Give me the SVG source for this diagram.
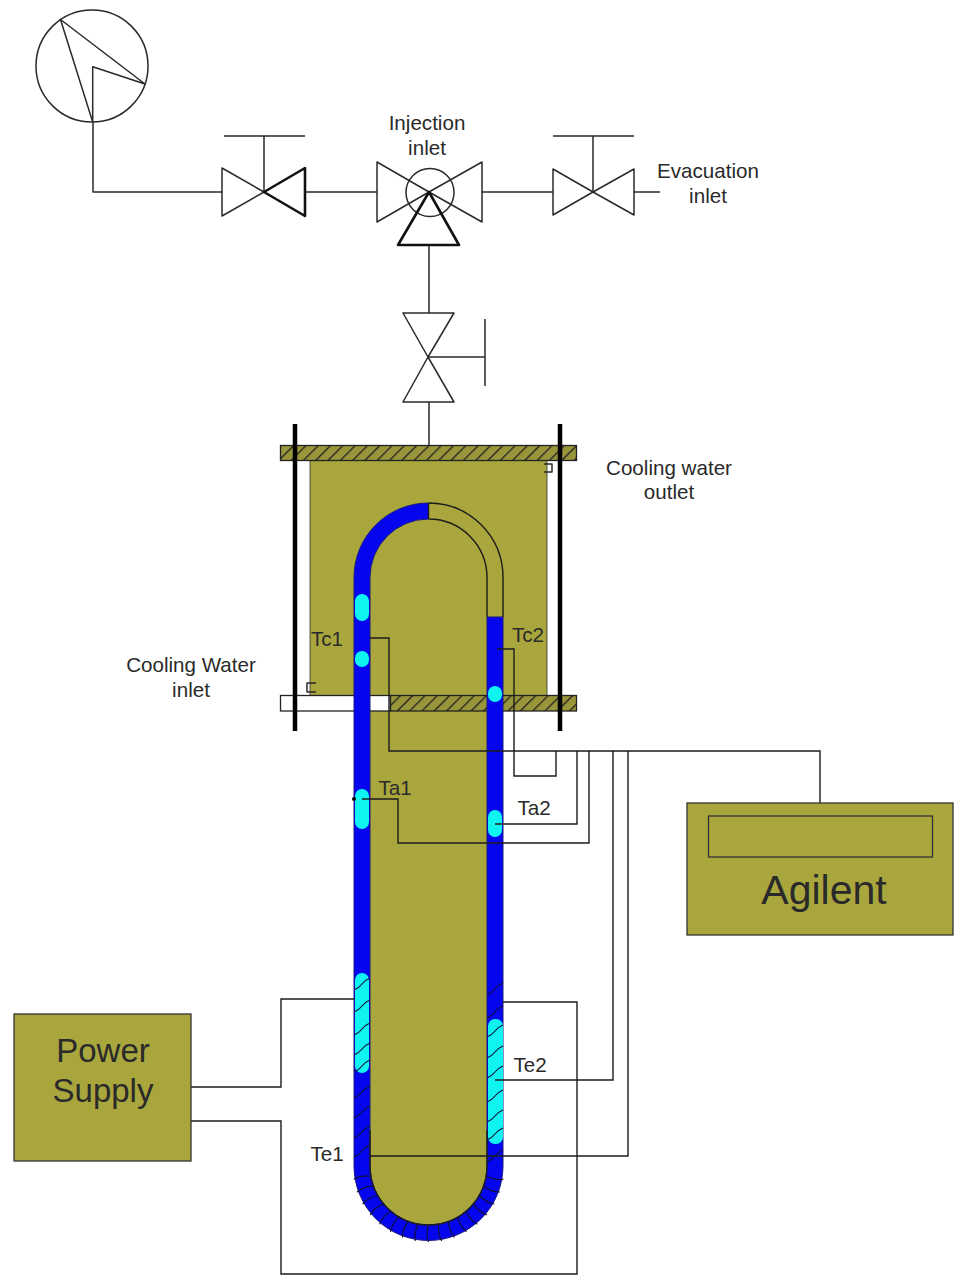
<svg xmlns="http://www.w3.org/2000/svg" xmlns:xlink="http://www.w3.org/1999/xlink" width="957" height="1275" viewBox="0 0 957 1275">
<style>
text{font-family:"Liberation Sans",Arial,sans-serif;font-size:20.6px;fill:#2a2a2a;text-anchor:middle}
.l{fill:none;stroke:#2a2a2a;stroke-width:1.5;stroke-linejoin:round}
.v{fill:#fff;stroke:#2a2a2a;stroke-width:1.5;stroke-linejoin:round}
.t{fill:#fff;stroke:#111;stroke-width:2.6;stroke-linejoin:round}
.tn{fill:none;stroke:#111;stroke-width:2.6;stroke-linejoin:round}
.w{fill:none;stroke:#1c1c1c;stroke-width:1.4}
.o{fill:#a9a63d}
.r{stroke:#000;stroke-width:4.5;fill:none}
.c{fill:#0ff4f0}
.coil{fill:none;stroke:#10103c;stroke-width:1.2}
.box{fill:#a9a63d;stroke:#333;stroke-width:1.3}
</style>
<defs>
<pattern id="hatch" width="8.700" height="8.700" patternUnits="userSpaceOnUse" patternTransform="rotate(45)">
<rect width="8.700" height="8.700" fill="#98953a"/>
<line x1="0" y1="0" x2="0" y2="8.700" stroke="#222" stroke-width="2.600"/>
</pattern>
<path id="turn" d="M-8,5 Q-3,3 0,-1 Q3,-5 8,-7" class="coil"/>
<path id="rad" d="M487.500,1166 Q496,1169 504.500,1166" class="coil"/>
</defs>
<rect width="957" height="1275" fill="#fff"/>

<g id="vessel">
<rect class="o" x="310" y="460" width="237" height="235"/>
<path class="l" d="M310,460V695M547,460V695" stroke-opacity=".5"/>
<path class="o" d="M370,695H487V1166A58.500,59 0 0 1 370,1166Z"/>
<rect x="280.500" y="445.500" width="296" height="15" fill="url(#hatch)" stroke="#222" stroke-width="1.3"/>
<rect x="280.500" y="695.500" width="110" height="15.500" fill="#fff" stroke="#222" stroke-width="1.3"/>
<rect x="390.500" y="695.500" width="186" height="15.500" fill="url(#hatch)" stroke="#222" stroke-width="1.3"/>
<path fill="#0505ee" stroke="#1a1a80" stroke-width="1" d="M428.500,503A74.500,74.500 0 0 0 354,577.500V1166A74.500,74.500 0 0 0 503,1166V617H487V1166A58.500,59 0 0 1 370,1166V577.500A58.500,58.500 0 0 1 428.500,519Z"/>
<path class="w" d="M428.500,503A74.500,74.500 0 0 1 503,577.500V617M428.500,519A58.500,58.500 0 0 1 487,577.500V617M428.500,503V519"/>
<path class="w" d="M370,1130V1166A58.500,59 0 0 0 487,1166V1130"/>
<path class="l" d="M316,683H307V692H316M544,464H552V472H544"/>
<rect class="c" x="355" y="594" width="14" height="27" rx="7"/>
<rect class="c" x="355" y="651" width="14" height="16" rx="7"/>
<rect class="c" x="488" y="686" width="14" height="16" rx="7"/>
<rect class="c" x="355" y="789" width="14" height="40" rx="7"/>
<rect class="c" x="488" y="810" width="14" height="27" rx="7"/>
<rect class="c" x="355" y="973" width="14" height="100" rx="7"/>
<rect class="c" x="488" y="1019" width="15" height="125" rx="7"/>
<g id="coil-left">
<use xlink:href="#turn" transform="translate(362,985)"/><use xlink:href="#turn" transform="translate(362,1007)"/><use xlink:href="#turn" transform="translate(362,1030)"/><use xlink:href="#turn" transform="translate(362,1050)"/><use xlink:href="#turn" transform="translate(362,1067)"/><use xlink:href="#turn" transform="translate(362,1093)"/><use xlink:href="#turn" transform="translate(362,1113)"/><use xlink:href="#turn" transform="translate(362,1133)"/><use xlink:href="#turn" transform="translate(362,1152)"/>
</g>
<g id="coil-right">
<use xlink:href="#turn" transform="translate(495,990)"/><use xlink:href="#turn" transform="translate(495,1013)"/><use xlink:href="#turn" transform="translate(495,1032)"/><use xlink:href="#turn" transform="translate(495,1053)"/><use xlink:href="#turn" transform="translate(495,1073)"/><use xlink:href="#turn" transform="translate(495,1097)"/><use xlink:href="#turn" transform="translate(495,1117)"/><use xlink:href="#turn" transform="translate(495,1135)"/><use xlink:href="#turn" transform="translate(495,1157)"/>
</g>
<g id="coil-bend">
<use xlink:href="#rad" transform="rotate(10 428.500 1166)"/><use xlink:href="#rad" transform="rotate(20 428.500 1166)"/><use xlink:href="#rad" transform="rotate(30 428.500 1166)"/><use xlink:href="#rad" transform="rotate(40 428.500 1166)"/><use xlink:href="#rad" transform="rotate(50 428.500 1166)"/><use xlink:href="#rad" transform="rotate(60 428.500 1166)"/><use xlink:href="#rad" transform="rotate(70 428.500 1166)"/><use xlink:href="#rad" transform="rotate(80 428.500 1166)"/><use xlink:href="#rad" transform="rotate(90 428.500 1166)"/><use xlink:href="#rad" transform="rotate(100 428.500 1166)"/><use xlink:href="#rad" transform="rotate(110 428.500 1166)"/><use xlink:href="#rad" transform="rotate(120 428.500 1166)"/><use xlink:href="#rad" transform="rotate(130 428.500 1166)"/><use xlink:href="#rad" transform="rotate(140 428.500 1166)"/><use xlink:href="#rad" transform="rotate(150 428.500 1166)"/><use xlink:href="#rad" transform="rotate(160 428.500 1166)"/><use xlink:href="#rad" transform="rotate(170 428.500 1166)"/>
</g>
<path class="r" d="M295,424V731M560,424V731"/>
<circle cx="354" cy="799" r="2" fill="#000"/>
</g>

<g id="connectors">
<path class="l" d="M93,122V192H222M305,192H377M482,192H553M634,192H660M429,245V313M429,402V445"/>
<path class="w" d="M370,638H389V751H820V803"/>
<path class="w" d="M497,649H514V776H556V751"/>
<path class="w" d="M495,824H577V751"/>
<path class="w" d="M362,799H398V843H589V751"/>
<path class="w" d="M495,1080H613V751"/>
<path class="w" d="M370,1156H628V751"/>
<path class="w" d="M191,1087H281V999H355"/>
<path class="w" d="M191,1121H281V1274H577V1002H503"/>
</g>

<g id="pump">
<circle class="l" cx="92" cy="66" r="56"/>
<path class="l" d="M60.500,19.500L145,84L92.700,66.700V122Z"/>
</g>
<g id="valve-left">
<path class="l" d="M264,192V136M224,136H305"/>
<path class="v" d="M222,168V216L264,192Z"/>
<path class="t" d="M305,168V216L264,192Z"/>
</g>
<g id="valve-injection">
<circle class="l" cx="430" cy="192.500" r="24"/>
<path class="l" d="M377,162V222L429,192ZM482,162V222L429,192Z"/>
<path class="tn" d="M398,245H459L429,192Z"/>
<text x="427" y="130">Injection</text>
<text x="427" y="155">inlet</text>
</g>
<g id="valve-right">
<path class="l" d="M593,192V136M553,136H634"/>
<path class="v" d="M553,169V215L593,192Z"/>
<path class="v" d="M634,169V215L593,192Z"/>
<text x="708" y="178">Evacuation</text>
<text x="708" y="203">inlet</text>
</g>
<g id="valve-vertical">
<path class="l" d="M428,357H485M485,319V386"/>
<path class="v" d="M403,313H454L428,357Z"/>
<path class="v" d="M403,402H454L428,357Z"/>
</g>
<g id="power-supply">
<rect class="box" x="14" y="1014" width="177" height="147"/>
<text x="103" y="1062" style="font-size:33px">Power</text>
<text x="103" y="1102" style="font-size:33px">Supply</text>
</g>
<g id="agilent">
<rect class="box" x="687" y="803" width="266" height="132"/>
<rect class="box" x="708.500" y="816" width="224" height="41"/>
<text x="824" y="904" style="font-size:41px">Agilent</text>
</g>
<g id="labels">
<text x="669" y="475">Cooling water</text>
<text x="669" y="499">outlet</text>
<text x="191" y="672">Cooling Water</text>
<text x="191" y="697">inlet</text>
<text x="327" y="646">Tc1</text>
<text x="528" y="642">Tc2</text>
<text x="395" y="795">Ta1</text>
<text x="534" y="815">Ta2</text>
<text x="530" y="1072">Te2</text>
<text x="327" y="1161">Te1</text>
</g>
</svg>
